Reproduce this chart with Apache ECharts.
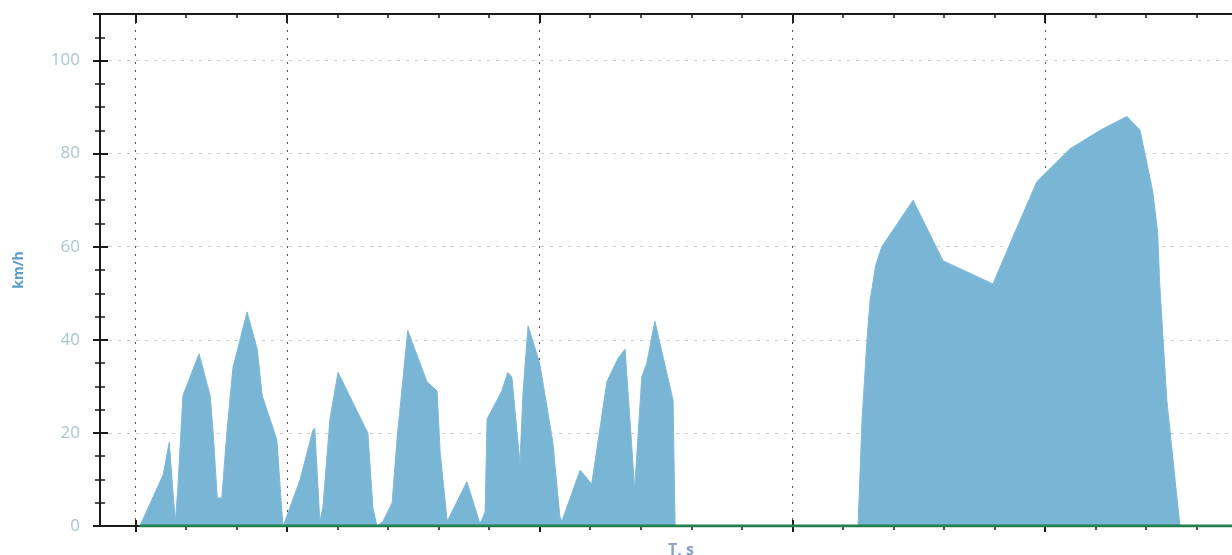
<!DOCTYPE html>
<html>
<head>
<meta charset="utf-8">
<script src="https://cdn.jsdelivr.net/npm/echarts@6.0.0/dist/echarts.min.js"></script>
<style>
    html, body {margin: 0; padding: 0; background: #fff;}
    #chart {width: 1232px; height: 555px;}
</style>
</head>
<body>
<div id="chart"></div>
<script>
    // time, s
    var time = [0.9, 5.5, 6.7, 7.4, 7.9, 8.4, 9.4, 12.6, 14.8, 15.4, 16.2, 17.1, 18.1, 19.3, 22.1, 24.1, 25.1, 28.0, 29.0, 29.2,
        29.6, 32.6, 35.1, 35.5, 36.5, 37.1, 38.5, 40.1, 46.0, 47.0, 47.8,
        49.0, 50.8, 51.8, 53.9, 57.7, 59.7, 60.3, 61.7,
        65.6, 68.2,
        69.2, 69.6, 72.5, 73.7, 74.5, 76.1, 76.7, 77.7, 80.0, 82.6, 84.0,
        84.4, 88.0, 90.3, 93.3, 95.5, 96.9, 98.8, 100.2, 101.2, 102.8, 106.4, 106.8,
        143.0, 143.8, 144.8, 145.4, 146.5, 147.7, 153.9, 159.8, 169.7, 173.6, 178.4, 184.9, 190.9, 196.2, 198.8,
        201.3, 202.3, 202.7, 204.1, 206.7, 216.8];
    // speed, km/h
    var speed = [0, 11, 18, 8, 1, 8, 28, 37, 28, 20, 6, 6, 20, 34, 46, 38, 28, 18.5, 3, 0,
        1, 10, 20.5, 21, 1, 4, 23, 33, 20, 4, 0,
        1, 5, 19, 42, 31, 29, 16, 1,
        9.5, 0.5,
        3, 23, 29, 33, 32, 13.5, 28.5, 43, 35, 18, 2,
        1, 12, 9, 31, 36, 38, 8, 32, 35, 44, 27, 0,
        0, 23, 40.5, 48.6, 56, 60, 70, 57, 52, 62, 74, 81, 85, 88, 85,
        72, 63, 52, 27, 0, 0];
    // green base line
    var baseTime = [0.9, 217];
    var baseSpeed = [0, 0];

    var xMinorTicks = [0, 10, 20, 30, 40, 50, 60, 70, 80, 90, 100, 110, 120, 130, 140, 150, 160, 170, 180, 190, 200, 210];
    var xMajorTicks = [0, 30, 80, 130, 180];
    var yLabels = [0, 20, 40, 60, 80, 100];

    var tickColor = '#1a1a1a';
    var hide = {show: false};

    function xAx(pos, ticks, inside, len, w) {
        return {
            type: 'value', position: pos, min: -7, max: 217,
            axisLine: {show: false, onZero: false},
            axisTick: {show: true, inside: inside, length: len, customValues: ticks,
                lineStyle: {color: tickColor, width: w}},
            axisLabel: hide, splitLine: hide
        };
    }

    function yAx(interval, inside, len, w) {
        return {
            type: 'value', position: 'left', min: 0, max: 110, interval: interval,
            axisLine: {show: false, onZero: false},
            axisTick: {show: true, inside: inside, length: len, lineStyle: {color: tickColor, width: w}},
            axisLabel: hide, splitLine: hide
        };
    }

    var xAxes = [
        xAx('bottom', xMinorTicks, false, 4, 1.5),
        xAx('bottom', xMajorTicks, false, 6, 2),
        xAx('bottom', xMajorTicks, true, 6, 2),
        xAx('top', xMinorTicks, true, 4, 1.5),
        xAx('top', xMajorTicks, true, 9, 2)
    ];
    // bottom axis line + title
    xAxes[0].axisLine = {show: true, onZero: false, lineStyle: {color: tickColor, width: 2}};
    xAxes[0].name = 'T, s';
    xAxes[0].nameLocation = 'middle';
    xAxes[0].nameGap = 16;
    xAxes[0].nameTextStyle = {color: '#8aa3c2', fontSize: 16, fontWeight: 'bold', fontFamily: 'Open Sans', padding: [0, 0, 0, 30]};
    // vertical dotted grid
    xAxes[1].splitLine = {show: true, lineStyle: {color: '#555', type: [2, 6], width: 1}};
    // top frame line
    xAxes[3].axisLine = {show: true, onZero: false, lineStyle: {color: tickColor, width: 2}};

    var yAxes = [
        yAx(5, false, 5, 1.5),
        yAx(5, true, 5, 1.5),
        yAx(20, false, 7, 2),
        yAx(20, true, 8, 2)
    ];
    yAxes[0].axisLine = {show: true, onZero: false, lineStyle: {color: tickColor, width: 2}};
    yAxes[0].name = 'km/h';
    yAxes[0].nameLocation = 'middle';
    yAxes[0].nameGap = 74;
    yAxes[0].nameRotate = 90;
    yAxes[0].nameTextStyle = {color: '#5f9fc4', fontSize: 14, fontWeight: 'bold', fontFamily: 'Open Sans'};
    yAxes[2].axisLabel = {show: true, customValues: yLabels, margin: 20, color: '#a9c6cf', fontSize: 17, fontFamily: 'Open Sans'};
    yAxes[2].splitLine = {show: true, lineStyle: {color: '#c9cccc', type: [3, 6], width: 1}};

    var chart = echarts.init(document.getElementById('chart'));
    chart.setOption({
        animation: false,
        backgroundColor: '#fff',
        grid: {left: 100, right: 0, top: 14, bottom: 29, containLabel: false, outerBoundsMode: 'none'},
        xAxis: xAxes,
        yAxis: yAxes,
        series: [{
            name: 'speed', type: 'line', symbol: 'none',
            data: time.map(function (t, i) { return [t, speed[i]]; }),
            lineStyle: {color: '#7eb8d6', width: 1},
            areaStyle: {color: '#79b6d5', opacity: 1}
        }, {
            name: 'base', type: 'line', symbol: 'none',
            data: baseTime.map(function (t, i) { return [t, baseSpeed[i]]; }),
            lineStyle: {color: '#23804c', width: 3}
        }]
    });
</script>
</body>
</html>
